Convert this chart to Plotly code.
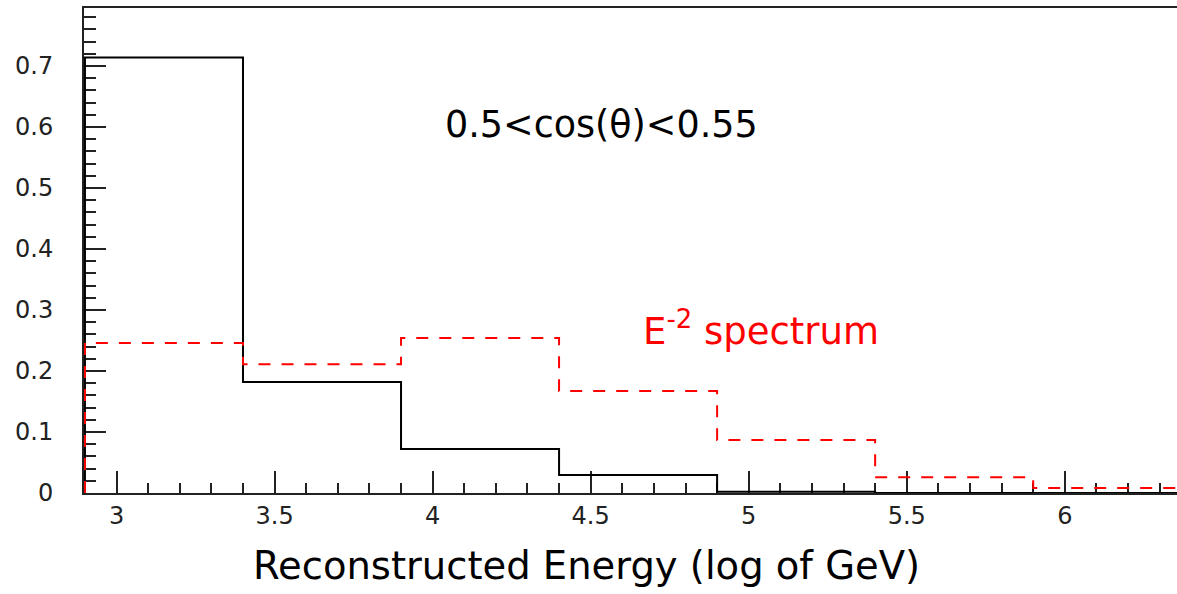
import plotly.graph_objects as go

# bin edges (log10 of GeV)
bin_edges = [2.9, 3.4, 3.9, 4.4, 4.9, 5.4, 5.9, 6.4]
# black solid histogram (0.5<cos(theta)<0.55)
black_vals = [0.714, 0.182, 0.072, 0.0295, 0.002, 0.0, 0.0]
# red dashed histogram (E^-2 spectrum)
red_vals = [0.246, 0.211, 0.254, 0.167, 0.087, 0.026, 0.008]

x_range = [2.897, 6.355]
y_range = [0, 0.795]
y_ticks = [0, 0.1, 0.2, 0.3, 0.4, 0.5, 0.6, 0.7]
y_ticklabels = ["0", "0.1", "0.2", "0.3", "0.4", "0.5", "0.6", "0.7"]
x_ticks = [3, 3.5, 4, 4.5, 5, 5.5, 6]
x_ticklabels = ["3", "3.5", "4", "4.5", "5", "5.5", "6"]


def step_xy(edges, vals):
    xs = [edges[0]] + list(edges)
    ys = [0] + list(vals) + [vals[-1]]
    return xs, ys


fig = go.Figure()
bx, by = step_xy(bin_edges, black_vals)
rx, ry = step_xy(bin_edges, red_vals)
fig.add_trace(go.Scatter(x=bx, y=by, mode="lines", line=dict(color="black", width=2, shape="hv"),
                         showlegend=False, hoverinfo="skip"))
fig.add_trace(go.Scatter(x=rx, y=ry, mode="lines", line=dict(color="#ff0000", width=2, shape="hv", dash="12px,11px"),
                         showlegend=False, hoverinfo="skip"))

tickfont = dict(family="DejaVu Sans", size=24, color="#222")
fig.update_layout(
    width=1177, height=594,
    margin=dict(l=84, r=0, t=8, b=101),
    paper_bgcolor="white", plot_bgcolor="white",
    xaxis=dict(range=x_range, showgrid=False, zeroline=False, showline=True, linecolor="#222", linewidth=2,
               mirror=True, ticks="inside", ticklen=22, tickwidth=2, tickcolor="#222", automargin=False,
               tickvals=x_ticks, ticktext=x_ticklabels, tickfont=tickfont, layer="below traces",
               minor=dict(ticks="inside", ticklen=10, tickwidth=2, tickcolor="#222", dtick=0.1, tick0=2.9)),
    yaxis=dict(range=y_range, showgrid=False, zeroline=False, showline=True, linecolor="#222", linewidth=2,
               ticks="inside", ticklen=22, tickwidth=2, tickcolor="#222", automargin=False,
               tickvals=y_ticks, ticktext=y_ticklabels, tickfont=tickfont, layer="below traces",
               ticklabelstandoff=24,
               minor=dict(ticks="inside", ticklen=12, tickwidth=2, tickcolor="#222", dtick=0.02, tick0=0)),
    annotations=[
        dict(text="0.5<cos(θ)<0.55", xref="paper", yref="paper", x=0.4735, y=0.808, showarrow=False,
             font=dict(family="DejaVu Sans", size=36.5, color="black")),
        dict(text="E<sup>-2</sup> spectrum", xref="paper", yref="paper", x=0.619, y=0.34, showarrow=False,
             font=dict(family="DejaVu Sans", size=37, color="#ff0000")),
        dict(text="Reconstructed Energy (log of GeV)", xref="paper", yref="paper", x=0.4593, y=-0.2,
             showarrow=False, font=dict(family="DejaVu Sans", size=38.5, color="black")),
    ],
)

fig.write_html("out.html", config={"displayModeBar": False},
               post_script="document.body.style.margin='0';document.body.style.overflow='hidden';")
